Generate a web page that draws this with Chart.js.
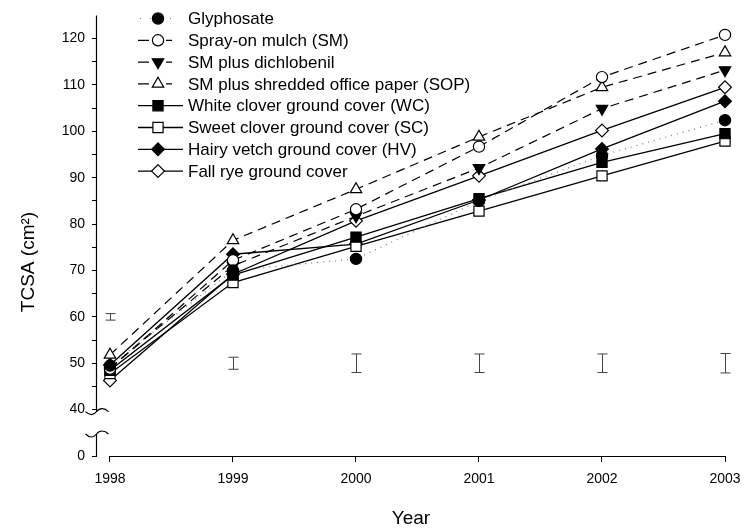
<!DOCTYPE html>
<html><head><meta charset="utf-8">
<script src="https://cdn.jsdelivr.net/npm/chart.js@4/dist/chart.umd.min.js"></script>
<style>html,body{margin:0;padding:0;background:#fff}</style>
</head><body>
<canvas id="c" width="750" height="531"></canvas>
<script>
// ---- data ----
const years = [1998, 1999, 2000, 2001, 2002, 2003];
const glyphosate = [49.5, 70.0, 72.5, 85.0, 94.8, 102.4];
const sprayMulch = [48.8, 72.2, 83.2, 96.7, 111.7, 120.8];
const smDichlobenil = [49.0, 71.0, 81.7, 92.1, 104.9, 113.2];
const smPaper = [51.8, 76.5, 87.5, 98.8, 109.5, 117.0];
const whiteClover = [48.5, 69.0, 77.2, 85.5, 93.3, 99.5];
const sweetClover = [47.8, 67.4, 75.2, 82.8, 90.4, 97.9];
const hairyVetch = [49.6, 73.5, 75.7, 85.2, 96.2, 106.5];
const fallRye = [46.3, 69.2, 80.7, 90.4, 100.2, 109.5];
const seriesNames = [
  'Glyphosate',
  'Spray-on mulch (SM)',
  'SM plus dichlobenil',
  'SM plus shredded office paper (SOP)',
  'White clover ground cover (WC)',
  'Sweet clover ground cover (SC)',
  'Hairy vetch ground cover (HV)',
  'Fall rye ground cover'
];
// broken y axis: value 30 position is labelled "0"
const yTickValues = [30, 40, 45, 50, 55, 60, 65, 70, 75, 80, 85, 90, 95, 100, 105, 110, 115, 120];
const xTickValues = [1998, 1999, 2000, 2001, 2002, 2003];
const errYears = [1998, 1999, 2000, 2001, 2002, 2003];
const errCenter = [60, 50, 50, 50, 50, 50];
const errHalf = [0.7, 1.3, 2.0, 2.0, 2.0, 2.1];
const yTitle = 'TCSA (cm\u00B2)';
const xTitle = 'Year';

// ---- styles ----
const FONT = '"Liberation Sans", Arial, Helvetica, sans-serif';
const allSeries = [glyphosate, sprayMulch, smDichlobenil, smPaper, whiteClover, sweetClover, hairyVetch, fallRye];
const styles = [
  {ps:'circle', r:5.6, fill:'#000', dash:[1,5], line:'#777', lw:1.2, rot:0},
  {ps:'circle', r:5.6, fill:'#fff', dash:[9,6], line:'#000', lw:1.2, rot:0},
  {ps:'triangle', r:6.6, fill:'#000', dash:[9,6], line:'#000', lw:1.2, rot:180},
  {ps:'triangle', r:6.6, fill:'#fff', dash:[9,6], line:'#000', lw:1.2, rot:0},
  {ps:'rect', r:7.2, fill:'#000', dash:[], line:'#000', lw:1.3, rot:0},
  {ps:'rect', r:7.2, fill:'#fff', dash:[], line:'#000', lw:1.3, rot:0},
  {ps:'rectRot', r:6.4, fill:'#000', dash:[], line:'#000', lw:1.3, rot:0},
  {ps:'rectRot', r:6.4, fill:'#fff', dash:[], line:'#000', lw:1.3, rot:0}
];

const datasets = allSeries.map((vals, i) => ({
  label: seriesNames[i],
  data: years.map((yr, j) => ({x: yr, y: vals[j]})),
  borderColor: styles[i].line,
  borderWidth: styles[i].lw,
  borderDash: styles[i].dash,
  pointStyle: styles[i].ps,
  pointRadius: styles[i].r,
  pointRotation: styles[i].rot,
  pointBackgroundColor: styles[i].fill,
  pointBorderColor: '#000',
  pointBorderWidth: 1.2,
  tension: 0,
  fill: false,
  clip: false
}));

function drawMarker(ctx, st, x, y) {
  ctx.save();
  ctx.setLineDash([]);
  ctx.fillStyle = st.fill;
  ctx.strokeStyle = '#000';
  ctx.lineWidth = 1.2;
  ctx.beginPath();
  const r = st.r;
  if (st.ps === 'circle') {
    ctx.arc(x, y, r, 0, Math.PI * 2);
  } else if (st.ps === 'triangle') {
    let a = st.rot * Math.PI / 180;
    for (let k = 0; k < 3; k++) {
      const px = x + Math.sin(a) * r, py = y - Math.cos(a) * r;
      if (k === 0) ctx.moveTo(px, py); else ctx.lineTo(px, py);
      a += 2 * Math.PI / 3;
    }
    ctx.closePath();
  } else if (st.ps === 'rect') {
    const s = r * Math.SQRT1_2;
    ctx.rect(x - s, y - s, 2 * s, 2 * s);
  } else {
    ctx.moveTo(x, y - r); ctx.lineTo(x + r, y); ctx.lineTo(x, y + r); ctx.lineTo(x - r, y); ctx.closePath();
  }
  ctx.fill();
  ctx.stroke();
  ctx.restore();
}

const customPlugin = {
  id: 'custom',
  beforeDatasetsDraw(chart) {
    const ctx = chart.ctx, xs = chart.scales.x, ys = chart.scales.y;
    ctx.save();
    ctx.strokeStyle = '#444';
    ctx.lineWidth = 1;
    errYears.forEach((yr, i) => {
      const x = Math.round(xs.getPixelForValue(yr)) + 0.5;
      const y1 = ys.getPixelForValue(errCenter[i] + errHalf[i]);
      const y2 = ys.getPixelForValue(errCenter[i] - errHalf[i]);
      ctx.beginPath();
      ctx.moveTo(x, y1); ctx.lineTo(x, y2);
      ctx.moveTo(x - 5, y1); ctx.lineTo(x + 5, y1);
      ctx.moveTo(x - 5, y2); ctx.lineTo(x + 5, y2);
      ctx.stroke();
    });
    ctx.restore();
  },
  afterDraw(chart) {
    const ctx = chart.ctx, xs = chart.scales.x, ys = chart.scales.y;
    const ax = Math.round(chart.chartArea.left) - 0.5;
    const yTop = chart.chartArea.top;
    const y40 = ys.getPixelForValue(40);
    const y0 = ys.getPixelForValue(30);
    ctx.save();
    ctx.strokeStyle = '#000';
    ctx.lineWidth = 1.2;
    // y axis upper part
    ctx.beginPath();
    ctx.moveTo(ax, yTop); ctx.lineTo(ax, y40 + 2);
    ctx.stroke();
    // break marks
    const brk = (yc) => {
      ctx.beginPath();
      ctx.moveTo(ax - 11, yc);
      ctx.bezierCurveTo(ax - 7, yc + 4, ax - 3, yc + 4, ax, yc);
      ctx.bezierCurveTo(ax + 3, yc - 4, ax + 8, yc - 4, ax + 12, yc);
      ctx.stroke();
    };
    brk(y40 + 2);
    const yLow = y0 - 22;
    brk(yLow);
    ctx.beginPath();
    ctx.moveTo(ax, yLow); ctx.lineTo(ax, y0);
    ctx.stroke();
    // x axis
    const yAx = Math.round(y0) + 0.5;
    ctx.beginPath();
    ctx.moveTo(xs.getPixelForValue(1998), yAx);
    ctx.lineTo(xs.getPixelForValue(2003), yAx);
    ctx.stroke();

    // y axis title
    ctx.save();
    ctx.fillStyle = '#000';
    ctx.font = '19px ' + FONT;
    ctx.textAlign = 'center';
    ctx.textBaseline = 'middle';
    ctx.translate(29, 262);
    ctx.rotate(-Math.PI / 2);
    ctx.fillText(yTitle, 0, 0);
    ctx.restore();

    // legend
    ctx.font = '17px ' + FONT;
    ctx.textBaseline = 'middle';
    ctx.textAlign = 'left';
    ctx.fillStyle = '#000';
    styles.forEach((st, i) => {
      const ly = 18.5 + i * 21.8;
      ctx.save();
      ctx.strokeStyle = st.line;
      ctx.lineWidth = st.lw;
      if (i === 0) {
        ctx.setLineDash([1, 9]);
        ctx.beginPath(); ctx.moveTo(140, ly); ctx.lineTo(180, ly); ctx.stroke();
      } else if (st.dash.length) {
        ctx.setLineDash([]);
        ctx.beginPath();
        ctx.moveTo(138, ly); ctx.lineTo(149, ly);
        ctx.moveTo(166, ly); ctx.lineTo(172, ly);
        ctx.stroke();
      } else {
        ctx.beginPath(); ctx.moveTo(138, ly); ctx.lineTo(183, ly); ctx.stroke();
      }
      ctx.restore();
      drawMarker(ctx, st, 158, ly);
      ctx.fillText(seriesNames[i], 188, ly + 1);
    });
    ctx.restore();
  }
};

new Chart(document.getElementById('c'), {
  type: 'line',
  data: { datasets },
  plugins: [customPlugin],
  options: {
    responsive: false,
    animation: false,
    events: [],
    layout: { padding: { left: 18, top: 14, right: 25, bottom: 1 } },
    plugins: { legend: { display: false }, tooltip: { enabled: false } },
    scales: {
      x: {
        type: 'linear',
        min: 1998 - 13 / 123,
        max: 2003,
        afterBuildTicks: (s) => { s.ticks = xTickValues.map(v => ({value: v})); },
        afterFit: (s) => { s.height = 74; },
        border: { display: false },
        grid: { drawOnChartArea: false, drawTicks: true, tickLength: 6, color: '#000', lineWidth: 1 },
        ticks: {
          color: '#000', padding: 9, maxRotation: 0, autoSkip: false,
          font: { family: FONT, size: 14 },
          callback: (v) => String(v)
        },
        title: { display: true, text: xTitle, color: '#000', font: { family: FONT, size: 19 }, padding: 0 }
      },
      y: {
        type: 'linear',
        min: 30,
        max: 125,
        afterBuildTicks: (s) => { s.ticks = yTickValues.map(v => ({value: v})); },
        afterFit: (s) => { s.width = 79; },
        border: { display: false },
        grid: { drawOnChartArea: false, drawTicks: true, tickLength: 5, color: '#000', lineWidth: 1 },
        ticks: {
          color: '#000', padding: 7, autoSkip: false,
          font: { family: FONT, size: 14 },
          callback: (v) => v === 30 ? '0' : (v % 10 === 0 ? String(v) : '')
        },
        title: { display: false }
      }
    }
  }
});
</script>
</body></html>
